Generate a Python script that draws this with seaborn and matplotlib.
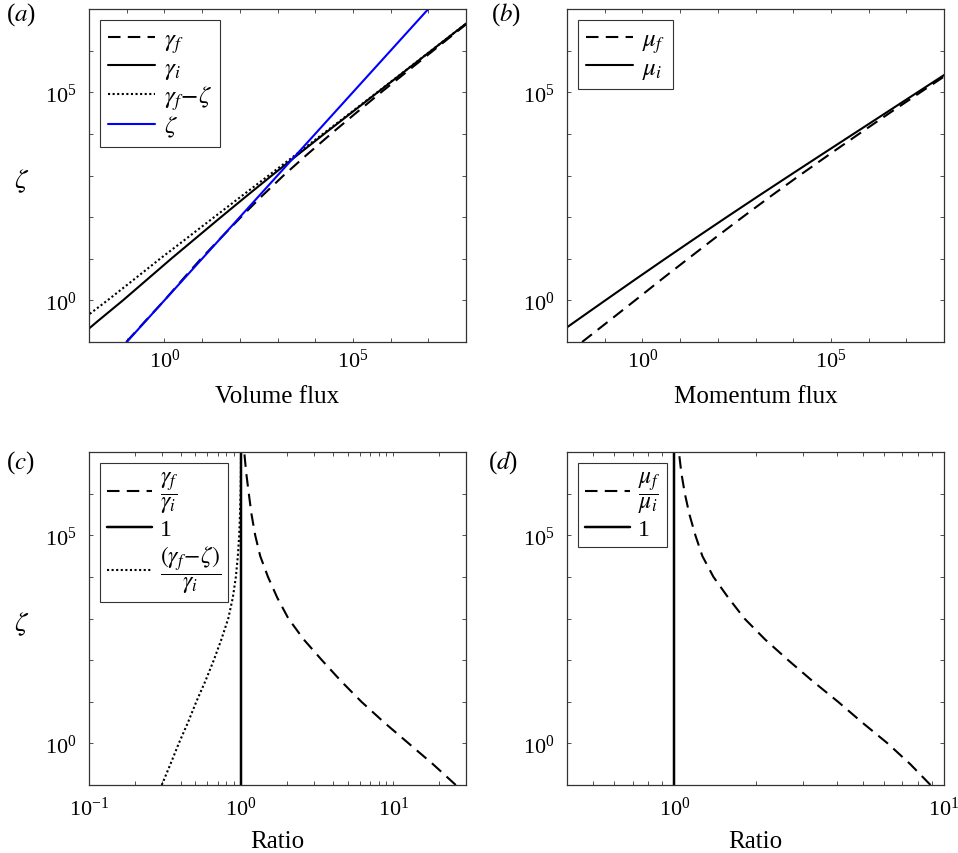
import numpy as np
import pandas as pd
import matplotlib
matplotlib.use("Agg")
import matplotlib.pyplot as plt
from matplotlib.ticker import FixedLocator, LogLocator, NullFormatter, LogFormatterSciNotation
import seaborn as sns

# ---------------------------------------------------------------------------
# Data (log10 values, sampled every half decade of the source parameter zeta)
# ---------------------------------------------------------------------------
zeta_exp = [-1.0, -0.5, 0.0, 0.5, 1.0, 1.5, 2.0, 2.5, 3.0,
            3.5, 4.0, 4.5, 5.0, 5.5, 6.0, 6.5, 7.0]

# (a) volume fluxes
gamma_f_exp = [-1.01, -0.51, 0.00, 0.48, 0.97, 1.495, 2.03, 2.58, 3.16,
               3.78, 4.42, 5.08, 5.75, 6.44, 7.13, 7.82, 8.52]
gamma_i_exp = [-2.42, -1.77, -1.10, -0.46, 0.18, 0.84, 1.50, 2.17, 2.85,
               3.54, 4.24, 4.95, 5.66, 6.37, 7.08, 7.79, 8.50]
gamma_f_minus_zeta_exp = [-2.94, -2.235, -1.51, -0.81, -0.115, 0.605, 1.32, 2.04, 2.765,
                          3.485, 4.205, 4.928, 5.647, 6.362, 7.076, 7.788, 8.499]

# (b) momentum fluxes
mu_f_exp = [-1.60, -0.895, -0.194, 0.502, 1.212, 1.927, 2.657, 3.401, 4.165,
            4.95, 5.745, 6.554, 7.378, 8.206, 9.039, 9.876, 10.717]
mu_i_exp = [-2.55, -1.77, -0.985, -0.195, 0.605, 1.415, 2.235, 3.065, 3.905,
            4.75, 5.60, 6.45, 7.30, 8.15, 9.00, 9.85, 10.70]

# (c) volume flux ratios
ratio_gamma_exp = [1.41, 1.26, 1.10, 0.94, 0.79, 0.655, 0.53, 0.41, 0.31,
                   0.237, 0.176, 0.125, 0.092, 0.068, 0.050, 0.033, 0.020]
ratio_gamma_minus_exp = [-0.522, -0.465, -0.41, -0.35, -0.295, -0.235, -0.18, -0.13, -0.085,
                         -0.055, -0.035, -0.022, -0.013, -0.008, -0.004, -0.002, -0.001]

# (d) momentum flux ratio
ratio_mu_exp = [0.95, 0.875, 0.791, 0.697, 0.607, 0.512, 0.422, 0.336, 0.26,
                0.20, 0.145, 0.104, 0.078, 0.056, 0.039, 0.026, 0.017]

unity = 1.0


def pw(v):
    return 10.0 ** np.asarray(v, dtype=float)


zeta = pw(zeta_exp)
df_a = pd.DataFrame({"zeta": zeta, "gamma_f": pw(gamma_f_exp), "gamma_i": pw(gamma_i_exp),
                     "gamma_fz": pw(gamma_f_minus_zeta_exp)})
df_b = pd.DataFrame({"zeta": zeta, "mu_f": pw(mu_f_exp), "mu_i": pw(mu_i_exp)})
df_c = pd.DataFrame({"zeta": zeta, "r_f": pw(ratio_gamma_exp), "r_fz": pw(ratio_gamma_minus_exp)})
df_d = pd.DataFrame({"zeta": zeta, "r_mu": pw(ratio_mu_exp)})

# ---------------------------------------------------------------------------
# Style
# ---------------------------------------------------------------------------
sns.set_theme(style="ticks")
plt.rcParams.update({
    "font.family": ["Liberation Serif", "DejaVu Serif"],
    "mathtext.fontset": "stix",
    "axes.edgecolor": "0.2",
    "axes.linewidth": 0.9,
    "xtick.color": "0.2",
    "ytick.color": "0.2",
    "xtick.labelcolor": "black",
    "ytick.labelcolor": "black",
    "axes.labelcolor": "black",
    "text.color": "black",
})

LW = 1.5
DASH = (0, (6, 3.5))
DOT = (0, (1, 1.2))

W, H = 958, 854
fig = plt.figure(figsize=(W / 100, H / 100), dpi=100)


def box(x0, y0, x1, y1):
    return [x0 / W, 1 - y1 / H, (x1 - x0) / W, (y1 - y0) / H]


ax_a = fig.add_axes(box(89, 10, 466, 343))
ax_b = fig.add_axes(box(567, 10, 944, 343))
ax_c = fig.add_axes(box(89, 453, 466, 786))
ax_d = fig.add_axes(box(567, 453, 944, 786))

for ax in (ax_a, ax_b, ax_c, ax_d):
    ax.set_xscale("log")
    ax.set_yscale("log")


def line(ax, df, x, y, ls, color="black", label=None):
    sns.lineplot(data=df, x=x, y=y, ax=ax, color=color, linestyle=ls, linewidth=LW,
                 sort=False, estimator=None, label=label, legend=False)


# (a)
line(ax_a, df_a, "gamma_f", "zeta", DASH, label=r"$\gamma_f$")
line(ax_a, df_a, "gamma_i", "zeta", "-", label=r"$\gamma_i$")
line(ax_a, df_a, "gamma_fz", "zeta", DOT, label=r"$\gamma_f\!-\!\zeta$")
line(ax_a, df_a, "zeta", "zeta", "-", color="#0000ff", label=r"$\zeta$")

# (b)
line(ax_b, df_b, "mu_f", "zeta", DASH, label=r"$\mu_f$")
line(ax_b, df_b, "mu_i", "zeta", "-", label=r"$\mu_i$")

# (c)
line(ax_c, df_c, "r_f", "zeta", DASH, label=r"$\dfrac{\gamma_f}{\gamma_i}$")
ax_c.axvline(unity, color="black", linewidth=LW * 1.2, label="1")
line(ax_c, df_c, "r_fz", "zeta", DOT, label=r"$\dfrac{(\gamma_f\!-\!\zeta)}{\gamma_i}$")

# (d)
line(ax_d, df_d, "r_mu", "zeta", DASH, label=r"$\dfrac{\mu_f}{\mu_i}$")
ax_d.axvline(unity, color="black", linewidth=LW * 1.2, label="1")

# ---------------------------------------------------------------------------
# Axes limits and ticks
# ---------------------------------------------------------------------------
for ax in (ax_a, ax_b):
    ax.set_xlim(1e-2, 1e8)
    ax.xaxis.set_major_locator(FixedLocator([1e0, 1e5]))
    ax.xaxis.set_minor_locator(FixedLocator([10.0 ** k for k in range(-2, 9)]))
for ax in (ax_a, ax_b, ax_c, ax_d):
    ax.set_ylim(1e-1, 1e7)
    ax.yaxis.set_major_locator(FixedLocator([1e0, 1e5]))
    ax.yaxis.set_minor_locator(FixedLocator([10.0 ** k for k in range(-1, 8)]))
    ax.yaxis.set_major_formatter(LogFormatterSciNotation())
    ax.yaxis.set_minor_formatter(NullFormatter())
    ax.xaxis.set_major_formatter(LogFormatterSciNotation())
    ax.xaxis.set_minor_formatter(NullFormatter())
    ax.tick_params(which="both", direction="in", top=True, right=True,
                   length=3.2, width=0.6, labelsize=16)

ax_c.set_xlim(0.1, 30)
ax_d.set_xlim(0.4, 10)
for ax in (ax_c, ax_d):
    ax.xaxis.set_major_locator(LogLocator(base=10))
    ax.xaxis.set_minor_locator(LogLocator(base=10, subs=np.arange(2, 10)))
    ax.xaxis.set_minor_formatter(NullFormatter())
    ax.tick_params(axis="x", which="major", pad=8)

for ax in (ax_a, ax_b):
    ax.tick_params(axis="x", which="major", pad=5)
for ax in (ax_a, ax_b, ax_c, ax_d):
    ax.tick_params(axis="y", which="major", pad=9)

# Labels
ax_a.set_xlabel("Volume flux", fontsize=18, labelpad=9.5)
ax_b.set_xlabel("Momentum flux", fontsize=18, labelpad=9.5)
ax_c.set_xlabel("Ratio", fontsize=18, labelpad=8)
ax_d.set_xlabel("Ratio", fontsize=18, labelpad=8)
for ax in (ax_a, ax_c):
    ax.set_ylabel(r"$\zeta$", fontsize=20, rotation=0, va="center")
    ax.yaxis.set_label_coords(-0.178, 0.485)
for ax in (ax_b, ax_d):
    ax.set_ylabel("")

# Legends
for ax, fs in ((ax_a, 18), (ax_b, 18), (ax_c, 17), (ax_d, 17)):
    h, l = ax.get_legend_handles_labels()
    leg = ax.legend(h, l, loc="upper left", fontsize=fs, frameon=True, fancybox=False,
                    edgecolor="0.2", framealpha=1, handlelength=1.9, handletextpad=0.35,
                    borderpad=0.3, labelspacing=0.08 if fs == 18 else 0.15,
                    borderaxespad=0.45)
    leg.get_frame().set_linewidth(0.8)

# Panel tags
for tag, (px, py) in {"a": (6, 15), "b": (491, 15), "c": (6, 463), "d": (488, 463)}.items():
    fig.text(px / W, 1 - py / H, r"(${\it %s}$)" % tag, fontsize=18, ha="left", va="center")

fig.savefig("out.png", dpi=100)
